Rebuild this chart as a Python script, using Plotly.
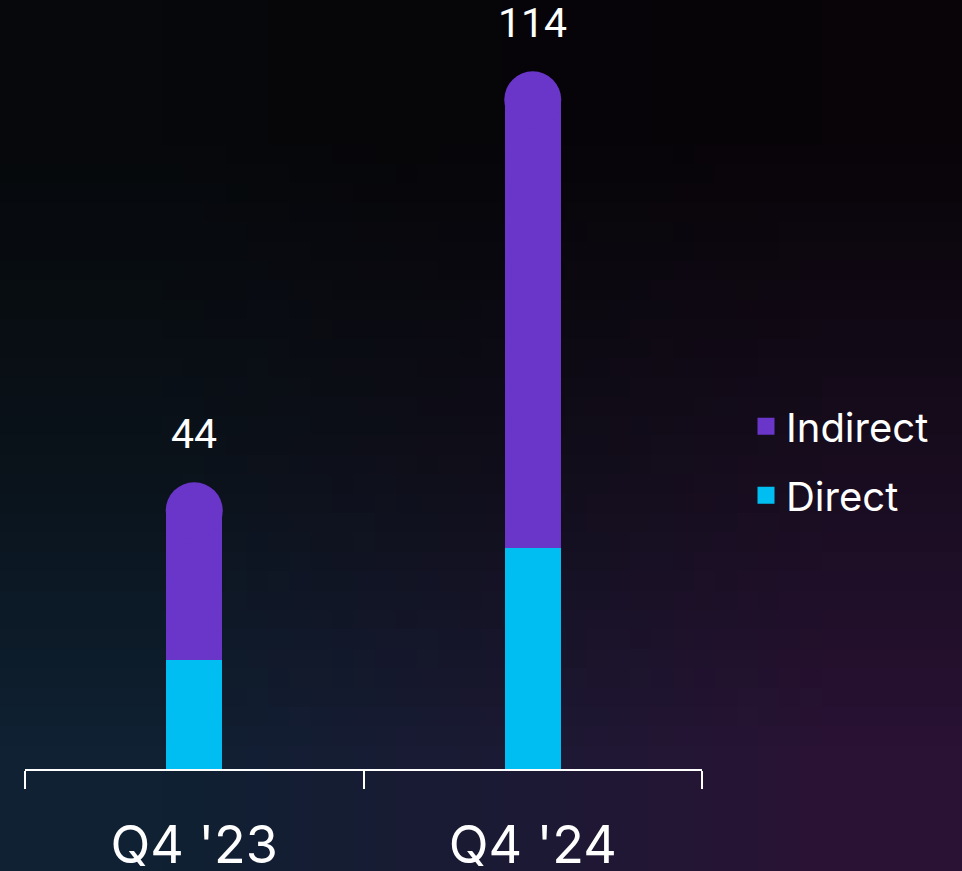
import base64
import struct
import zlib

import plotly.graph_objects as go

# ---------------- data ----------------
categories = ["Q4 '23", "Q4 '24"]
direct = [19, 38]
indirect = [25, 76]
totals = [d + i for d, i in zip(direct, indirect)]
total_labels = [str(t) for t in totals]

# ---------------- style ----------------
PURPLE = "#6A35C9"
CYAN = "#00BEF2"
FONT = "Inter"

W, H = 962, 871
ML, MR, MT, MB = 25, 260, 0, 102
PW, PH = W - ML - MR, H - MT - MB
PAD = 30  # background image bleed beyond the page edges

# background gradient colours (3x3 grid, top row first)
bg_rows = [
    ["#06080b", "#060508", "#080408"],
    ["#0a1219", "#0f0d18", "#170c1d"],
    ["#0f2133", "#1b1a34", "#2a1235"],
]


def hex_rgb(h):
    h = h.lstrip("#")
    return tuple(int(h[i:i + 2], 16) for i in (0, 2, 4))


def png_uri(rows):
    h = len(rows)
    w = len(rows[0])
    raw = b"".join(b"\x00" + bytes([c for px in row for c in hex_rgb(px)]) for row in rows)

    def chunk(tag, data):
        return (struct.pack(">I", len(data)) + tag + data
                + struct.pack(">I", zlib.crc32(tag + data) & 0xFFFFFFFF))

    png = (b"\x89PNG\r\n\x1a\n"
           + chunk(b"IHDR", struct.pack(">IIBBBBB", w, h, 8, 2, 0, 0, 0))
           + chunk(b"IDAT", zlib.compress(raw))
           + chunk(b"IEND", b""))
    return "data:image/png;base64," + base64.b64encode(png).decode()


fig = go.Figure()

fig.add_trace(go.Bar(
    name="Direct", x=categories, y=direct, width=0.15,
    legendgroup="direct", legendrank=2,
    marker=dict(color=CYAN, line=dict(color=CYAN, width=5)),
    hoverinfo="skip",
))
fig.add_trace(go.Bar(
    name="Indirect", x=categories, y=indirect, width=0.15,
    legendgroup="indirect", legendrank=1,
    marker=dict(color=PURPLE, line=dict(color=PURPLE, width=5)),
    hoverinfo="skip",
))
fig.add_trace(go.Scatter(
    x=categories, y=totals, mode="markers",
    marker=dict(size=57, color=PURPLE),
    showlegend=False, hoverinfo="skip", cliponaxis=False,
))

for c, t, lab in zip(categories, totals, total_labels):
    fig.add_annotation(
        x=c, y=t, text=lab, showarrow=False, yshift=77,
        font=dict(family="Roboto", size=41, color="white"),
    )

fig.update_layout(
    width=W, height=H, autosize=False,
    margin=dict(l=ML, r=MR, t=MT, b=MB, autoexpand=False),
    barmode="stack",
    paper_bgcolor="#1a1a30",
    plot_bgcolor="rgba(0,0,0,0)",
    font=dict(family=FONT, color="white"),
    showlegend=True,
    legend=dict(
        traceorder="grouped", tracegroupgap=14,
        x=1.065, xanchor="left", y=0.488, yanchor="top",
        font=dict(family=FONT, size=40, color="white"),
        bgcolor="rgba(0,0,0,0)",
    ),
    xaxis=dict(
        type="category", range=[-0.5, 1.5], tickson="boundaries",
        ticks="outside", ticklen=18, tickwidth=1.5, tickcolor="white",
        showline=True, linecolor="white", linewidth=1.5,
        showgrid=False, zeroline=False, ticklabelstandoff=30,
        automargin=False,
        tickfont=dict(family=FONT, size=52, color="white"),
    ),
    yaxis=dict(
        range=[0, PH / 5.87], visible=False, showgrid=False, zeroline=False,
        automargin=False,
    ),
    images=[dict(
        source=png_uri(bg_rows), xref="paper", yref="paper",
        x=-(ML + PAD) / PW, y=1 + (MT + PAD) / PH,
        sizex=(W + 2 * PAD) / PW, sizey=(H + 2 * PAD) / PH,
        xanchor="left", yanchor="top", sizing="stretch", layer="below",
    )],
)

fig.write_html(
    "out.html",
    config={"displayModeBar": False, "responsive": False},
    post_script=(
        "document.body.style.margin='0';"
        "document.body.style.overflow='hidden';"
        "document.body.style.background='#1a1a30';"
    ),
)
